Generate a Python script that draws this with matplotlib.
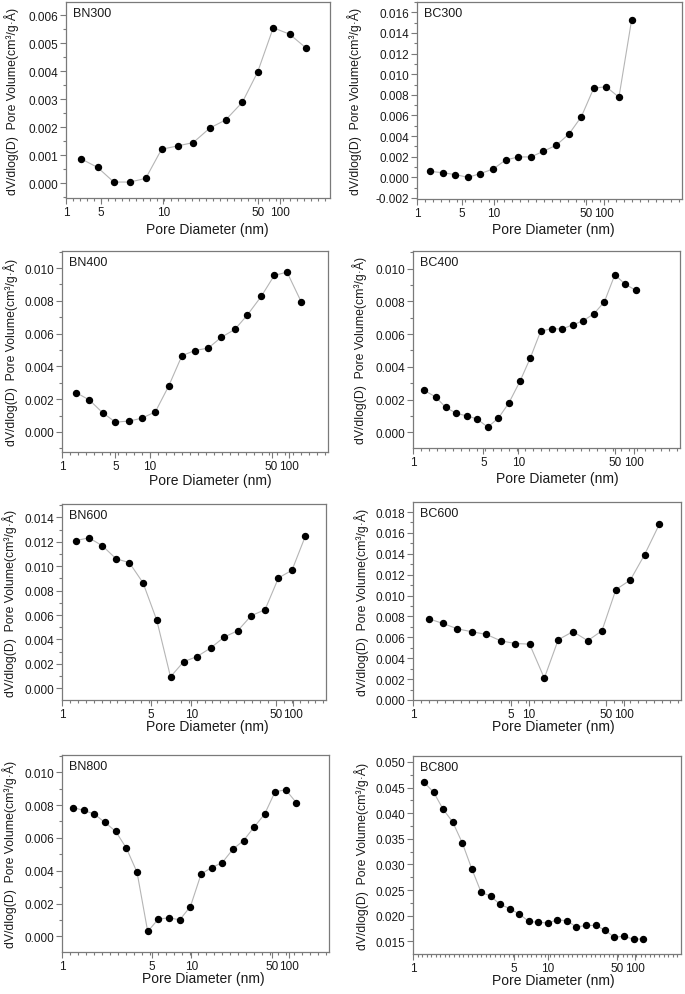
import matplotlib
matplotlib.use("Agg")
import matplotlib.pyplot as plt
from matplotlib.ticker import MultipleLocator, FixedLocator, FormatStrFormatter

plt.rcParams['font.family'] = ['Liberation Sans', 'DejaVu Sans']
plt.rcParams['axes.unicode_minus'] = False

W, H = 685, 995  # figure size in px

# x data: position of each point along the (non-uniform) pore diameter axis,
# as a fraction of the axis width (the original axis is not a true log scale)
XTICK_LABELS = ["1", "5", "10", "50", "100"]

BN300_POS = [0.057, 0.120, 0.181, 0.242, 0.302, 0.362, 0.423, 0.482, 0.545,
             0.605, 0.668, 0.726, 0.785, 0.847, 0.909]
BN300_DV = [0.00088, 0.00057, 0.00005, 0.00005, 0.00018, 0.00122, 0.00134,
            0.00146, 0.00198, 0.00227, 0.00290, 0.00398, 0.00556, 0.00533, 0.00484]

BC300_POS = [0.048, 0.097, 0.145, 0.193, 0.238, 0.288, 0.334, 0.383, 0.430,
             0.477, 0.525, 0.573, 0.620, 0.667, 0.714, 0.762, 0.810]
BC300_DV = [0.00058, 0.00045, 0.00026, 0.00000, 0.00036, 0.00081, 0.00168,
            0.00198, 0.00198, 0.00253, 0.00311, 0.00418, 0.00587, 0.00865,
            0.00878, 0.00777, 0.01529]

BN400_POS = [0.053, 0.103, 0.153, 0.201, 0.253, 0.300, 0.351, 0.401, 0.451,
             0.500, 0.550, 0.599, 0.650, 0.696, 0.749, 0.798, 0.846, 0.899]
BN400_DV = [0.00240, 0.00195, 0.00117, 0.00060, 0.00067, 0.00084, 0.00123,
            0.00280, 0.00466, 0.00497, 0.00512, 0.00578, 0.00626, 0.00712,
            0.00827, 0.00955, 0.00975, 0.00795]

BC400_POS = [0.042, 0.085, 0.122, 0.162, 0.202, 0.239, 0.280, 0.320, 0.359,
             0.401, 0.439, 0.478, 0.519, 0.557, 0.598, 0.638, 0.678, 0.717,
             0.756, 0.794, 0.834]
BC400_DV = [0.00256, 0.00216, 0.00153, 0.00116, 0.00100, 0.00082, 0.00032,
            0.00087, 0.00179, 0.00313, 0.00453, 0.00617, 0.00634, 0.00631,
            0.00656, 0.00682, 0.00725, 0.00798, 0.00963, 0.00906, 0.00868]

BN600_POS = [0.052, 0.102, 0.153, 0.205, 0.255, 0.307, 0.359, 0.411, 0.461,
             0.511, 0.563, 0.615, 0.666, 0.717, 0.769, 0.820, 0.871, 0.922]
BN600_DV = [0.01209, 0.01232, 0.01167, 0.01060, 0.01029, 0.00863, 0.00557,
            0.00094, 0.00218, 0.00259, 0.00330, 0.00420, 0.00472, 0.00595,
            0.00643, 0.00904, 0.00966, 0.01247]

BC600_POS = [0.058, 0.112, 0.166, 0.221, 0.274, 0.328, 0.382, 0.435, 0.490,
             0.542, 0.597, 0.652, 0.705, 0.757, 0.811, 0.864, 0.919]
BC600_DV = [0.00778, 0.00733, 0.00681, 0.00653, 0.00628, 0.00566, 0.00541,
            0.00535, 0.00209, 0.00578, 0.00655, 0.00568, 0.00663, 0.01057,
            0.01149, 0.01391, 0.01682]

BN800_POS = [0.041, 0.081, 0.121, 0.161, 0.201, 0.241, 0.281, 0.321, 0.361,
             0.401, 0.441, 0.481, 0.521, 0.560, 0.600, 0.640, 0.680, 0.719,
             0.759, 0.798, 0.838, 0.878]
BN800_DV = [0.00785, 0.00768, 0.00745, 0.00694, 0.00640, 0.00538, 0.00391,
            0.00030, 0.00106, 0.00113, 0.00101, 0.00182, 0.00380, 0.00419,
            0.00449, 0.00531, 0.00584, 0.00665, 0.00745, 0.00881, 0.00893, 0.00814]

BC800_POS = [0.040, 0.077, 0.112, 0.148, 0.184, 0.219, 0.254, 0.290, 0.325,
             0.361, 0.397, 0.432, 0.468, 0.504, 0.539, 0.575, 0.610, 0.646,
             0.682, 0.716, 0.751, 0.787, 0.823, 0.858]
BC800_DV = [0.0461, 0.0441, 0.0408, 0.0383, 0.0342, 0.0292, 0.0246, 0.0238,
            0.0222, 0.0214, 0.0203, 0.0189, 0.0187, 0.0186, 0.0192, 0.0190,
            0.0178, 0.0181, 0.0181, 0.0172, 0.0158, 0.0160, 0.0154, 0.0155]

# layout: name, x, y, box (L, T, R, B px), ylim, y major, y minor,
# tick positions of 1/5/10/50/100, x minor spacing, xlabel (x, y px), ylabel x px
PANELS = [
    ("BN300", BN300_POS, BN300_DV, (66, 3, 330, 199), (-0.00052, 0.00648), 0.001, 0.0005,
     [0.0, 0.131, 0.369, 0.727, 0.810], 0.0265, (207, 230), 12),
    ("BC300", BC300_POS, BC300_DV, (417, 3, 682, 200), (-0.0021, 0.0170), 0.002, 0.001,
     [0.0, 0.168, 0.290, 0.637, 0.706], 0.03, (553, 230), 355),
    ("BN400", BN400_POS, BN400_DV, (62, 252, 328, 453), (-0.00122, 0.01104), 0.002, 0.001,
     [0.0, 0.201, 0.331, 0.788, 0.853], 0.03, (210, 481), 11),
    ("BC400", BC400_POS, BC400_DV, (413, 252, 680, 449), (-0.00096, 0.01108), 0.002, 0.001,
     [0.0, 0.264, 0.395, 0.757, 0.827], 0.03, (557, 479), 360),
    ("BN600", BN600_POS, BN600_DV, (62, 505, 326, 701), (-0.00096, 0.01509), 0.002, 0.001,
     [0.0, 0.336, 0.490, 0.810, 0.876], 0.03, (207, 727), 10),
    ("BC600", BC600_POS, BC600_DV, (413, 503, 681, 701), (0.0, 0.01896), 0.002, 0.001,
     [0.0, 0.365, 0.431, 0.719, 0.786], 0.03, (553, 727), 362),
    ("BN800", BN800_POS, BN800_DV, (62, 756, 329, 953), (-0.00095, 0.01105), 0.002, 0.001,
     [0.0, 0.337, 0.484, 0.788, 0.850], 0.03, (203, 979), 10),
    ("BC800", BC800_POS, BC800_DV, (413, 757, 681, 955), (0.01253, 0.05117), 0.005, 0.0025,
     [0.0, 0.376, 0.502, 0.761, 0.829], 0.017, (553, 981), 362),
]

FRAME = "#7a7a7a"
LINE = "#b5b5b5"
YLABEL = "dV/dlog(D)  Pore Volume(cm³/g·Å)"

fig = plt.figure(figsize=(W / 100, H / 100), dpi=100)

for name, xs, ys, box, ylim, ymaj, ymin, xt, xmin_step, xlab, ylab_x in PANELS:
    L, T, R, B = box
    ax = fig.add_axes([L / W, 1 - B / H, (R - L) / W, (B - T) / H])
    ax.plot(xs, ys, color=LINE, lw=0.8, zorder=1)
    ax.plot(xs, ys, "o", color="black", ms=4.3, mec="black", zorder=2)

    ax.set_xlim(0, 1)
    ax.set_ylim(*ylim)
    ax.xaxis.set_major_locator(FixedLocator(xt))
    ax.set_xticklabels(XTICK_LABELS)
    ax.xaxis.set_minor_locator(MultipleLocator(xmin_step))
    ax.yaxis.set_major_locator(MultipleLocator(ymaj))
    ax.yaxis.set_minor_locator(MultipleLocator(ymin))
    ax.yaxis.set_major_formatter(FormatStrFormatter("%.3f"))

    for sp in ax.spines.values():
        sp.set_color(FRAME)
        sp.set_linewidth(0.9)
    ax.tick_params(which="both", direction="out", color=FRAME, width=0.8,
                   top=False, right=False, labelsize=8.5, labelcolor="#1a1a1a")
    ax.tick_params(which="major", length=4, pad=1.5)
    ax.tick_params(which="minor", length=2)

    ax.text(0.025, 0.975, name, transform=ax.transAxes, ha="left", va="top",
            fontsize=9, color="#1a1a1a")

    fig.text(xlab[0] / W, 1 - xlab[1] / H, "Pore Diameter (nm)", ha="center",
             va="center", fontsize=10, color="#1a1a1a")
    fig.text(ylab_x / W, 1 - ((T + B) / 2) / H, YLABEL, rotation=90, ha="center",
             va="center", fontsize=8.8, color="#1a1a1a")

fig.savefig("out.png", dpi=100, facecolor="white")
